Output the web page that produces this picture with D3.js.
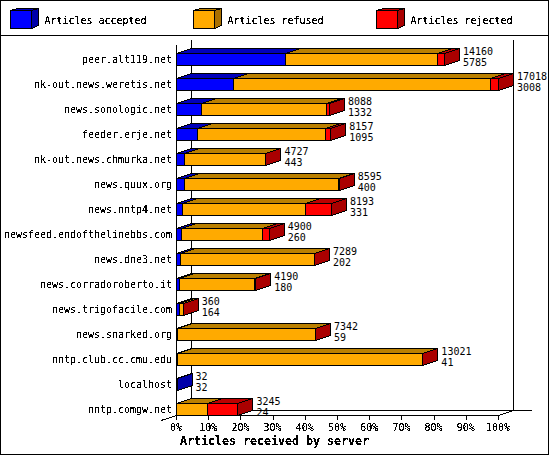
<!DOCTYPE html>
<html>
<head>
<meta charset="utf-8">
<script src="https://cdnjs.cloudflare.com/ajax/libs/d3/7.8.5/d3.min.js"></script>
<style>
  body { margin: 0; background: #fff; }
  svg { display: block; }
  text { font-family: "DejaVu Sans Mono", monospace; font-size: 11px; fill: #000; }
  text.total, text.acc { font-size: 10px; }
</style>
</head>
<body>
<div id="container"></div>
<script>
const w = 550;
const h = 455;

const servers = ['peer.alt119.net', 'nk-out.news.weretis.net', 'news.sonologic.net', 'feeder.erje.net',
  'nk-out.news.chmurka.net', 'news.quux.org', 'news.nntp4.net', 'newsfeed.endofthelinebbs.com',
  'news.dne3.net', 'news.corradoroberto.it', 'news.trigofacile.com', 'news.snarked.org',
  'nntp.club.cc.cmu.edu', 'localhost', 'nntp.comgw.net'];
const totals =   [14160, 17018, 8088, 8157, 4727, 8595, 8193, 4900, 7289, 4190, 360, 7342, 13021, 32, 3245];
const accepted = [5785, 3008, 1332, 1095, 443, 400, 331, 260, 202, 180, 164, 59, 41, 32, 24];
const refused =  [8005, 13580, 6586, 6792, 4274, 8155, 6472, 4300, 7077, 3960, 180, 7278, 12975, 0, 1620];
const rejected = [370, 430, 170, 270, 10, 40, 1390, 340, 10, 50, 16, 5, 5, 0, 1601];

const seriesNames = ['Articles accepted', 'Articles refused', 'Articles rejected'];
const seriesValues = [accepted, refused, rejected];
const frontColors = ['#0000ff', '#ffaa00', '#ff0000'];
const topColors = ['#0000bb', '#bb8000', '#bb0000'];
const sideColors = ['#0000aa', '#aa7000', '#aa0000'];
const pctTicks = [0, 10, 20, 30, 40, 50, 60, 70, 80, 90, 100];

const dx = 15;
const dy = 5;

const svg = d3.select('#container')
  .append('svg')
  .attr('width', w)
  .attr('height', h)
  .attr('viewBox', [0, 0, w, h]);

// threshold the glyph alpha so text looks like the bitmap font of the original
const filter = svg.append('filter')
  .attr('id', 'aliased')
  .attr('filterUnits', 'userSpaceOnUse')
  .attr('x', 0).attr('y', 0).attr('width', w).attr('height', h);
filter.append('feComponentTransfer')
  .append('feFuncA')
  .attr('type', 'discrete')
  .attr('tableValues', '0 0 1 1 1');

const x = d3.scaleLinear().domain([0, d3.max(totals)]).range([176, 498]);
const pct = d3.scaleLinear().domain([0, 100]).range([176, 498]);
const y = d3.scaleBand().domain(servers).range([46.5, 421.5]).paddingInner(0.52).paddingOuter(0.26);

const px = v => Math.round(v) + 0.5;
const poly = pts => pts.map(p => p.join(',')).join(' ');
// squeeze glyphs to the 6px cell of the original font
const cell = (sel, cw) => sel
  .attr('textLength', function () { return this.textContent.length * cw; })
  .attr('lengthAdjust', 'spacingAndGlyphs');

const art = svg.append('g')
  .attr('shape-rendering', 'crispEdges')
  .attr('stroke', '#000')
  .attr('fill', 'none');

art.append('rect')
  .attr('x', 0.5).attr('y', 0.5)
  .attr('width', 548).attr('height', 454)
  .attr('fill', '#fff');
art.append('line').attr('x1', 0).attr('x2', 549).attr('y1', 35.5).attr('y2', 35.5);

// legend
const legendX = [10, 193, 376];
seriesNames.forEach((s, i) => {
  const lx = legendX[i] + 0.5;
  art.append('polygon').attr('fill', topColors[i])
    .attr('points', poly([[lx, 10.5], [lx + 7, 8.5], [lx + 28, 8.5], [lx + 21, 10.5]]));
  art.append('polygon').attr('fill', sideColors[i])
    .attr('points', poly([[lx + 21, 10.5], [lx + 28, 8.5], [lx + 28, 25.5], [lx + 21, 28.5]]));
  art.append('rect').attr('fill', frontColors[i])
    .attr('x', lx).attr('y', 10.5).attr('width', 21).attr('height', 18);
});

// walls
art.append('line').attr('x1', 176.5).attr('x2', 176.5).attr('y1', 45).attr('y2', 415);
art.append('line').attr('x1', 191.5).attr('x2', 191.5).attr('y1', 40).attr('y2', 410);
art.append('line').attr('x1', 513.5).attr('x2', 513.5).attr('y1', 40).attr('y2', 410);
art.append('line').attr('x1', 191).attr('x2', 532).attr('y1', 410.5).attr('y2', 410.5);
art.append('line').attr('x1', 161).attr('x2', 176.5).attr('y1', 420.5).attr('y2', 415.5);
art.append('line').attr('x1', 498.5).attr('x2', 513.5).attr('y1', 415.5).attr('y2', 410.5);

// bars, left to right so each segment overlaps the side of the one before
servers.forEach((s, i) => {
  const top = y(s) + 0.5;
  const bottom = top + y.bandwidth();
  let sum = 0;
  seriesValues.forEach((vals, k) => {
    if (vals[i] === 0 && !(k === 0)) return;
    const x0 = px(x(sum));
    sum += vals[i];
    const x1 = px(x(sum));
    const g = art.append('g');
    g.append('polygon').attr('fill', topColors[k])
      .attr('points', poly([[x0, top], [x0 + dx, top - dy], [x1 + dx, top - dy], [x1, top]]));
    g.append('polygon').attr('fill', sideColors[k])
      .attr('points', poly([[x1, top], [x1 + dx, top - dy], [x1 + dx, bottom - dy], [x1, bottom]]));
    g.append('rect').attr('fill', frontColors[k])
      .attr('x', x0).attr('y', top).attr('width', x1 - x0).attr('height', y.bandwidth());
  });
});

// axis
const axis = svg.append('g')
  .attr('transform', 'translate(0,415)')
  .attr('shape-rendering', 'crispEdges')
  .call(d3.axisBottom(pct).tickValues(pctTicks).tickSize(5).tickSizeOuter(0).tickFormat(''));
axis.selectAll('path, line').attr('stroke', '#000');

const labels = svg.append('g').attr('filter', 'url(#aliased)');

seriesNames.forEach((s, i) => {
  labels.append('text').attr('x', legendX[i] + 34.5).attr('y', 24).text(s).call(cell, 6);
});

labels.selectAll('.server')
  .data(servers)
  .enter()
  .append('text')
  .attr('class', 'server')
  .attr('x', 172)
  .attr('y', d => y(d) + 10)
  .attr('text-anchor', 'end')
  .text(d => d)
  .call(cell, 6);

labels.selectAll('.pct')
  .data(pctTicks)
  .enter()
  .append('text')
  .attr('class', 'pct')
  .attr('x', d => pct(d))
  .attr('y', 431)
  .attr('text-anchor', 'middle')
  .text(d => d + '%')
  .call(cell, 6);

labels.append('text')
  .attr('x', 180)
  .attr('y', 445)
  .style('font-weight', 'bold')
  .style('font-size', '12px')
  .text('Articles received by server')
  .call(cell, 7);

// the digits stay readable only without the threshold
const values = svg.append('g');

values.selectAll('.total')
  .data(servers)
  .enter()
  .append('text')
  .attr('class', 'total')
  .attr('x', (d, i) => x(totals[i]) + dx + 4)
  .attr('y', d => y(d) + 2)
  .text((d, i) => totals[i]);

values.selectAll('.acc')
  .data(servers)
  .enter()
  .append('text')
  .attr('class', 'acc')
  .attr('x', (d, i) => x(totals[i]) + dx + 4)
  .attr('y', d => y(d) + 13)
  .text((d, i) => accepted[i]);
</script>
</body>
</html>
